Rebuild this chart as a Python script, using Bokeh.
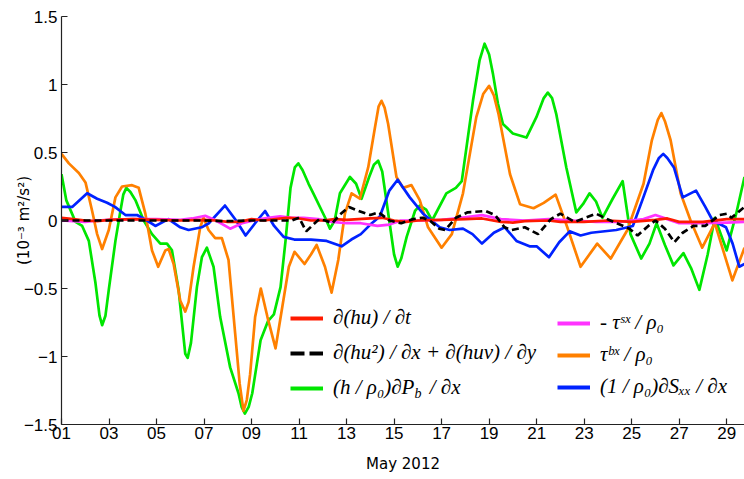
from bokeh.plotting import figure
from bokeh.models import (Range1d, FixedTicker, Legend, LegendItem, Label)
from bokeh.embed import file_html
from bokeh.resources import INLINE

# ---------------- data (days of May 2012, values in 1e-3 m^2/s^2) ----------------
red_x = [1.0, 1.5, 2.0, 2.5, 3.0, 4.0, 5.0, 6.0, 7.0, 7.5, 8.0, 8.5, 9.0, 9.5, 10.0,
         10.5, 11.0, 11.5, 12.0, 12.5, 13.0, 13.5, 14.0, 14.5, 15.0, 15.5, 16.0, 17.0,
         18.0, 18.7, 19.5, 20.0, 20.5, 21.5, 22.0, 23.0, 24.0, 25.0, 26.0, 26.5, 27.0,
         28.0, 29.0, 29.75]
red_y = [0.02, 0.01, 0.0, -0.005, 0.005, 0.01, 0.005, 0.0, 0.005, 0.0, -0.01, -0.01,
         0.01, 0.0, 0.01, 0.02, 0.015, 0.0, 0.0, 0.01, 0.005, 0.01, 0.015, 0.02, 0.0,
         -0.01, 0.0, 0.005, 0.01, 0.015, -0.01, -0.015, -0.005, 0.0, -0.01, -0.01, 0.0,
         -0.01, 0.005, 0.015, -0.01, -0.01, 0.01, 0.01]

black_x = [1.0, 2.0, 3.0, 4.0, 5.0, 6.0, 7.0, 8.0, 9.0, 10.0, 10.7, 11.0, 11.3, 11.6,
           11.85, 12.1, 12.4, 12.7, 13.1, 13.5, 14.0, 14.35, 14.8, 15.3, 15.8, 16.2,
           16.5, 16.9, 17.15, 17.6, 18.1, 18.85, 19.25, 19.65, 19.95, 20.5, 21.06, 21.6,
           22.0, 22.6, 23.5, 24.1, 24.9, 25.25, 25.7, 26.0, 26.4, 26.8, 27.15, 27.6,
           28.1, 28.7, 29.0, 29.2, 29.75]
black_y = [0.0, 0.0, 0.0, 0.0, 0.0, 0.0, 0.0, -0.005, 0.0, 0.0, 0.0, 0.02, -0.08, -0.03,
           0.01, 0.0, -0.02, 0.04, 0.1, 0.07, 0.04, 0.06, 0.0, -0.02, 0.01, 0.02, 0.0,
           -0.06, -0.07, 0.02, 0.06, 0.07, 0.04, -0.05, -0.07, -0.05, -0.1, 0.01, 0.05,
           -0.01, 0.05, 0.0, -0.06, -0.11, -0.04, 0.0, -0.06, -0.16, -0.09, -0.04, -0.04,
           0.04, 0.05, 0.02, 0.1]

green_x = [1.0, 1.2, 1.59, 1.87, 2.15, 2.43, 2.6, 2.71, 2.85, 2.99, 3.27, 3.48, 3.6,
           3.73, 3.9, 4.11, 4.46, 4.81, 5.16, 5.44, 5.65, 5.93, 6.21, 6.31, 6.45, 6.7,
           6.91, 7.12, 7.4, 7.68, 8.1, 8.45, 8.58, 8.72, 8.88, 9.03, 9.38, 9.69, 9.94,
           10.22, 10.43, 10.64, 10.82, 10.97, 11.15, 11.4, 11.6, 12.1, 12.3, 12.5, 12.72,
           13.14, 13.4, 13.63, 13.95, 14.15, 14.33, 14.5, 14.78, 15.0, 15.15, 15.3, 15.53,
           15.88, 16.08, 16.35, 16.6, 17.2, 17.6, 17.85, 18.32, 18.6, 18.81, 19.0, 19.16,
           19.37, 19.58, 20.0, 20.57, 20.99, 21.3, 21.47, 21.65, 21.83, 22.25, 22.67,
           22.95, 23.23, 23.5, 23.77, 24.2, 24.62, 24.95, 25.4, 25.75, 26.05, 26.4, 26.76,
           27.18, 27.5, 27.85, 28.2, 28.5, 29.0, 29.4, 29.75]
green_y = [0.34, 0.15, -0.01, -0.04, -0.15, -0.46, -0.7, -0.77, -0.7, -0.51, -0.15, 0.07,
           0.19, 0.24, 0.21, 0.15, 0.0, -0.1, -0.17, -0.17, -0.22, -0.51, -0.98, -1.01,
           -0.9, -0.49, -0.27, -0.2, -0.34, -0.71, -1.08, -1.27, -1.37, -1.42, -1.37,
           -1.27, -0.88, -0.74, -0.69, -0.49, -0.15, 0.24, 0.39, 0.42, 0.37, 0.27, 0.2,
           0.02, -0.06, 0.0, 0.2, 0.32, 0.27, 0.16, 0.32, 0.41, 0.44, 0.36, 0.02, -0.25,
           -0.34, -0.28, -0.12, 0.07, 0.11, 0.08, 0.0, 0.2, 0.24, 0.29, 0.88, 1.18, 1.3,
           1.22, 1.08, 0.86, 0.71, 0.64, 0.61, 0.76, 0.9, 0.94, 0.9, 0.78, 0.39, 0.06, 0.12,
           0.2, 0.14, 0.02, 0.16, 0.29, -0.1, -0.28, -0.17, -0.02, -0.18, -0.33, -0.24,
           -0.35, -0.51, -0.25, 0.02, -0.22, 0.05, 0.32]

magenta_x = [1.0, 1.5, 2.0, 2.5, 3.0, 4.0, 5.0, 6.0, 6.5, 7.05, 7.5, 8.1, 8.6, 9.2, 9.7,
             10.2, 10.7, 11.2, 11.8, 12.4, 13.0, 13.6, 14.3, 14.8, 15.3, 16.0, 17.0, 17.8,
             18.7, 19.5, 20.5, 21.5, 22.5, 23.5, 24.5, 25.5, 26.0, 26.5, 27.0, 28.0, 29.0,
             29.75]
magenta_y = [0.0, -0.005, -0.01, 0.0, 0.005, 0.01, 0.01, 0.005, 0.015, 0.035, 0.0, -0.06,
             -0.02, 0.005, 0.02, 0.03, 0.02, 0.02, 0.01, -0.01, -0.02, -0.02, -0.04, -0.03,
             0.0, 0.0, 0.005, 0.02, 0.04, 0.01, 0.0, 0.01, 0.0, -0.01, -0.01, 0.01, 0.04,
             0.01, -0.02, -0.02, -0.015, -0.01]

orange_x = [1.0, 1.31, 1.73, 2.01, 2.29, 2.5, 2.71, 2.99, 3.27, 3.55, 3.97, 4.25, 4.53,
            4.81, 5.07, 5.37, 5.51, 5.72, 6.0, 6.21, 6.35, 6.56, 6.84, 6.98, 7.19, 7.47,
            7.75, 8.03, 8.31, 8.5, 8.66, 8.8, 8.94, 9.15, 9.39, 9.67, 10.01, 10.29, 10.57,
            10.81, 11.23, 11.5, 11.74, 12.09, 12.37, 12.65, 12.93, 13.21, 13.56, 13.91,
            14.2, 14.35, 14.47, 14.6, 14.75, 15.1, 15.38, 15.73, 16.08, 16.43, 17.0, 17.43,
            17.9, 18.46, 18.75, 19.0, 19.2, 19.4, 19.88, 20.3, 20.87, 21.3, 21.8, 22.29,
            22.85, 23.55, 24.12, 24.82, 25.5, 25.85, 26.1, 26.25, 26.4, 26.64, 27.06,
            27.48, 27.97, 28.5, 29.24, 29.75]
orange_y = [0.49, 0.42, 0.35, 0.28, 0.07, -0.1, -0.21, -0.07, 0.17, 0.25, 0.26, 0.24,
            0.05, -0.22, -0.34, -0.22, -0.21, -0.32, -0.59, -0.67, -0.6, -0.34, -0.05, 0.02,
            -0.07, -0.13, -0.13, -0.29, -0.83, -1.2, -1.4, -1.32, -1.13, -0.71, -0.5, -0.71,
            -0.94, -0.64, -0.34, -0.23, -0.32, -0.25, -0.18, -0.34, -0.53, -0.29, 0.05, 0.2,
            0.16, 0.39, 0.69, 0.84, 0.88, 0.83, 0.71, 0.32, 0.24, 0.26, 0.15, -0.05, -0.2,
            -0.1, 0.2, 0.76, 0.93, 0.99, 0.92, 0.78, 0.34, 0.12, 0.09, 0.13, 0.19, -0.05,
            -0.34, -0.17, -0.28, -0.07, 0.27, 0.59, 0.74, 0.79, 0.73, 0.59, 0.2, 0.0, -0.2,
            -0.02, -0.44, -0.2]

blue_x = [1.0, 1.45, 2.08, 2.5, 2.92, 3.25, 3.69, 4.18, 4.6, 4.95, 5.5, 6.0, 6.35, 6.9,
          7.2, 7.88, 8.35, 8.75, 9.15, 9.57, 9.95, 10.35, 10.8, 11.5, 12.16, 12.79, 13.2,
          13.6, 14.0, 14.4, 14.8, 15.15, 15.66, 16.22, 16.92, 17.34, 17.9, 18.3, 18.7,
          19.2, 19.66, 20.15, 20.7, 21.0, 21.52, 21.95, 22.39, 22.85, 23.3, 24.35, 25.05,
          25.45, 25.9, 26.15, 26.33, 26.5, 26.78, 27.15, 27.71, 28.1, 28.41, 28.97, 29.25,
          29.53, 29.75]
blue_y = [0.1, 0.1, 0.2, 0.16, 0.13, 0.1, 0.04, 0.04, 0.0, -0.04, 0.01, -0.05, -0.07,
          -0.05, -0.02, 0.11, 0.0, -0.11, -0.02, 0.07, -0.04, -0.12, -0.14, -0.14, -0.15,
          -0.19, -0.14, -0.1, -0.03, 0.03, 0.22, 0.3, 0.17, 0.05, -0.05, -0.07, -0.06,
          -0.1, -0.17, -0.09, -0.05, -0.15, -0.19, -0.19, -0.27, -0.16, -0.08, -0.11,
          -0.09, -0.07, -0.04, 0.15, 0.37, 0.46, 0.49, 0.46, 0.39, 0.17, 0.22, 0.1, 0.0,
          -0.05, -0.17, -0.34, -0.32]

x_ticks = [1, 3, 5, 7, 9, 11, 13, 15, 17, 19, 21, 23, 25, 27, 29]
x_tick_labels = ["01", "03", "05", "07", "09", "11", "13", "15", "17", "19", "21",
                 "23", "25", "27", "29"]
y_ticks = [-1.5, -1.0, -0.5, 0.0, 0.5, 1.0, 1.5]
y_tick_labels = ["\u22121.5", "\u22121", "\u22120.5", "0", "0.5", "1", "1.5"]

legend_labels = ["\u2202(hu) / \u2202t",
                 "\u2202(hu\u00b2) / \u2202x + \u2202(huv) / \u2202y",
                 "(h / \u03c1\u2080)\u2202P   / \u2202x",
                 "- \u03c4\u02e2\u02e3 / \u03c1\u2080",
                 "\u03c4\u1d47\u02e3 / \u03c1\u2080",
                 "(1 / \u03c1\u2080)\u2202S\u2093\u2093 / \u2202x"]

C_RED = "#ff1a00"
C_BLACK = "#000000"
C_GREEN = "#00e600"
C_MAGENTA = "#ff33ff"
C_ORANGE = "#ff8000"
C_BLUE = "#0022ff"

NAN = float("nan")

# ---------------- figure ----------------
p = figure(width=744, height=479, output_backend="svg", toolbar_location=None,
           x_range=Range1d(1, 29.75), y_range=Range1d(-1.5, 1.5),
           min_border_left=61, min_border_right=0, min_border_top=16,
           min_border_bottom=55)
p.outline_line_color = None
p.grid.visible = False
p.background_fill_color = "white"
p.border_fill_color = "white"

LW = 2.7
p.line(green_x, green_y, line_color=C_GREEN, line_width=LW, line_join="round")
p.line(orange_x, orange_y, line_color=C_ORANGE, line_width=LW, line_join="round")
p.line(blue_x, blue_y, line_color=C_BLUE, line_width=LW, line_join="round")
p.line(magenta_x, magenta_y, line_color=C_MAGENTA, line_width=LW, line_join="round")
p.line(red_x, red_y, line_color=C_RED, line_width=LW, line_join="round")
p.line(black_x, black_y, line_color=C_BLACK, line_width=LW, line_dash="7 4")

# legend swatches (a single NaN point each, so nothing is drawn in the plot)
LLW = 4
sw_red = p.line([NAN], [NAN], line_color=C_RED, line_width=LLW)
sw_black = p.line([NAN], [NAN], line_color=C_BLACK, line_width=LLW, line_dash="14 5")
sw_green = p.line([NAN], [NAN], line_color=C_GREEN, line_width=LLW)
sw_mag = p.line([NAN], [NAN], line_color=C_MAGENTA, line_width=LLW)
sw_orange = p.line([NAN], [NAN], line_color=C_ORANGE, line_width=LLW)
sw_blue = p.line([NAN], [NAN], line_color=C_BLUE, line_width=LLW)

def make_legend(items, loc, spacing, standoff):
    lg = Legend(items=items, location=loc, orientation="vertical",
                border_line_color=None, background_fill_alpha=0,
                padding=0, margin=0, spacing=spacing, glyph_width=33,
                glyph_height=22, label_height=22, label_standoff=standoff,
                label_text_font="Liberation Serif", label_text_font_style="italic",
                label_text_font_size="21px", label_text_color="black")
    return lg

leg1 = make_legend([LegendItem(label=legend_labels[0], renderers=[sw_red]),
                    LegendItem(label=legend_labels[1], renderers=[sw_black]),
                    LegendItem(label=legend_labels[2], renderers=[sw_green])],
                   (229, 24), 10, 10)
leg2 = make_legend([LegendItem(label=legend_labels[3], renderers=[sw_mag]),
                    LegendItem(label=legend_labels[4], renderers=[sw_orange]),
                    LegendItem(label=legend_labels[5], renderers=[sw_blue])],
                   (496, 25), 7, 10)
p.add_layout(leg1)
p.add_layout(leg2)

# axes
for ax in (p.xaxis[0], p.yaxis[0]):
    ax.major_tick_in = 6
    ax.major_tick_out = 0
    ax.minor_tick_line_color = None
    ax.axis_line_color = "#222222"
    ax.axis_line_width = 1.2
    ax.major_tick_line_color = "#222222"
    ax.major_tick_line_width = 1.2
    ax.major_label_text_font = "Liberation Sans"
    ax.major_label_text_font_size = "17px"
    ax.major_label_text_color = "black"
    ax.axis_label_text_font = "DejaVu Sans"
    ax.axis_label_text_font_size = "15px"
    ax.axis_label_text_font_style = "normal"
    ax.axis_label_text_color = "black"

p.xaxis.ticker = FixedTicker(ticks=x_ticks)
p.xaxis.major_label_overrides = {t: l for t, l in zip(x_ticks, x_tick_labels)}
p.xaxis.major_label_standoff = 2
p.xaxis.axis_label = "May 2012"
p.xaxis.axis_label_standoff = 13
p.yaxis.ticker = FixedTicker(ticks=y_ticks)
p.yaxis.major_label_overrides = {t: l for t, l in zip(y_ticks, y_tick_labels)}
p.yaxis.major_label_standoff = 4
p.yaxis.axis_label = "(10\u207b\u00b3 m\u00b2/s\u00b2)"
p.yaxis.axis_label_standoff = -12

# subscript b of P_b in the legend
p.add_layout(Label(x=15.86, y=-1.27, text="b", text_font="Liberation Serif",
                   text_font_style="italic", text_font_size="14px",
                   text_align="left", text_baseline="middle", text_color="black"))

open("out.html", "w").write(file_html(p, INLINE))
